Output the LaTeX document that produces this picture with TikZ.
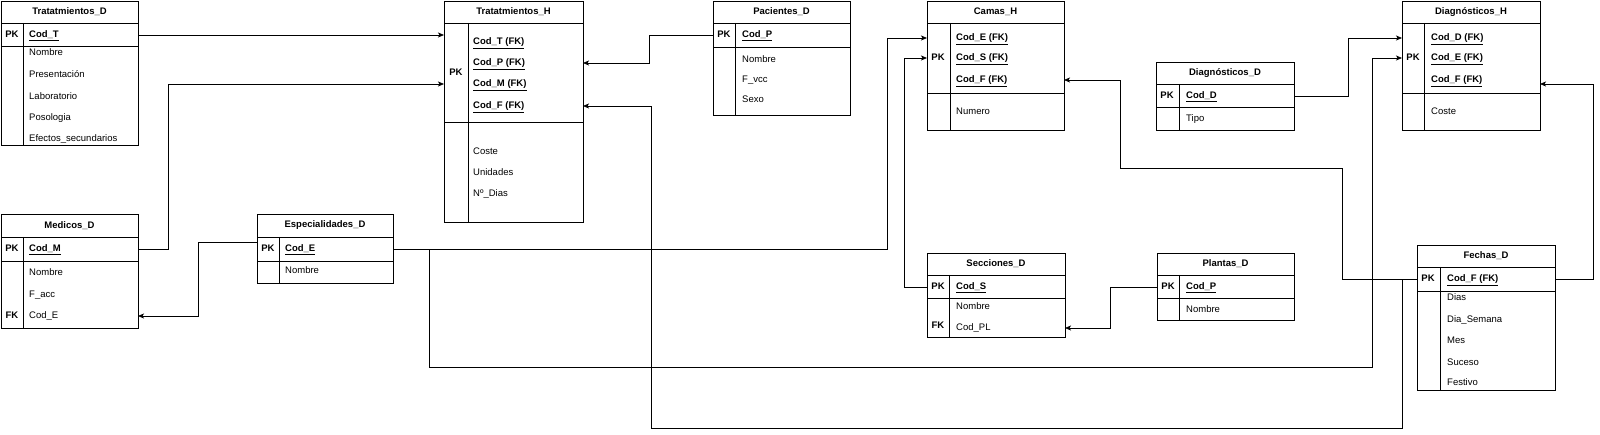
\documentclass[tikz,border=0pt]{standalone}
\usepackage{fontspec}
\setmainfont{Liberation Sans}
\usetikzlibrary{arrows.meta,positioning,calc}

\begin{document}
\begin{tikzpicture}[
    x=1pt, y=-1pt,
    tbox/.style={draw, line width=0.8pt, fill=white, anchor=north west, inner sep=0pt, outer sep=0pt},
    tline/.style={line width=0.8pt},
    thead/.style={font=\fontsize{9.5}{11}\selectfont\bfseries},
    keylabel/.style={font=\fontsize{9.5}{11}\selectfont\bfseries, text height=7pt, text depth=2pt},
    keyfield/.style={anchor=west, inner sep=0pt, font=\fontsize{9.5}{11}\selectfont\bfseries, text height=7pt, text depth=2pt},
    field/.style={anchor=west, inner sep=0pt, font=\fontsize{9.5}{11}\selectfont, text height=7pt, text depth=2pt},
    rel/.style={line width=0.7pt, -{Stealth[length=6pt, width=5pt, inset=1.5pt]}}
]

    \useasboundingbox (0,0) rectangle (1600,435);

    % Tratatmientos_D

    \node[tbox, minimum width=137, minimum height=144] (trD) at (1,1) {};

    \draw[tline] (1,23) -- (138,23);
    \draw[tline] (1,46) -- (138,46);
    \draw[tline] (23,23) -- (23,145);

    \node[thead] at (69.5,12) {Tratatmientos\_D};

    \node[keylabel] at (12,35) {PK};

    \node[keyfield] (tdT) at (29,35) {\underline{Cod\_T}};

    \foreach \y/\t in {53/Nombre, 75/Presentación, 97/Laboratorio, 118/Posologia, 139/Efectos\_secundarios} {

        \node[field] at (29,\y) {\t};

    }

    

    % Tratatmientos_H

    \node[tbox, minimum width=139, minimum height=221] (trH) at (444,1) {};

    \draw[tline] (444,23) -- (583,23);
    \draw[tline] (444,122) -- (583,122);
    \draw[tline] (468,23) -- (468,222);

    \node[thead] at (513.5,12) {Tratatmientos\_H};

    \node[keylabel] at (456,73) {PK};

    \node[keyfield] (thT) at (473,42) {\underline{Cod\_T (FK)}};

    \node[keyfield] (thP) at (473,63) {\underline{Cod\_P (FK)}};

    \node[keyfield] (thM) at (473,84) {\underline{Cod\_M (FK)}};

    \node[keyfield] (thF) at (473,106) {\underline{Cod\_F (FK)}};

    \foreach \y/\t in {152/Coste, 173/Unidades, 194/Nº\_Dias} {

        \node[field] at (473,\y) {\t};

    }

    

    % Pacientes_D

    \node[tbox, minimum width=137, minimum height=114] (pcD) at (713,1) {};

    \draw[tline] (713,23) -- (850,23);
    \draw[tline] (713,47) -- (850,47);
    \draw[tline] (735,23) -- (735,115);

    \node[thead] at (781.5,12) {Pacientes\_D};

    \node[keylabel] at (724,35) {PK};

    \node[keyfield] (pcP) at (742,35) {\underline{Cod\_P}};

    \foreach \y/\t in {60/Nombre, 80/F\_vcc, 100/Sexo} {

        \node[field] at (742,\y) {\t};

    }

    

    % Camas_H

    \node[tbox, minimum width=137, minimum height=129] (cmH) at (927,1) {};

    \draw[tline] (927,23) -- (1064,23);
    \draw[tline] (927,93) -- (1064,93);
    \draw[tline] (950,23) -- (950,130);

    \node[thead] at (995.5,12) {Camas\_H};

    \node[keylabel] at (938,58) {PK};

    \node[keyfield] (cmE) at (956,38) {\underline{Cod\_E (FK)}};

    \node[keyfield] (cmS) at (956,58) {\underline{Cod\_S (FK)}};

    \node[keyfield] (cmF) at (956,80) {\underline{Cod\_F (FK)}};

    \node[field] at (956,112) {Numero};

    

    % Diagnósticos_D

    \node[tbox, minimum width=138, minimum height=68] (dgD) at (1156,62) {};

    \draw[tline] (1156,84) -- (1294,84);
    \draw[tline] (1156,107) -- (1294,107);
    \draw[tline] (1179,84) -- (1179,130);

    \node[thead] at (1225,73) {Diagnósticos\_D};

    \node[keylabel] at (1167,96) {PK};

    \node[keyfield] (ddD) at (1186,96) {\underline{Cod\_D}};

    \node[field] at (1186,119) {Tipo};

    

    % Diagnósticos_H

    \node[tbox, minimum width=138, minimum height=129] (dgH) at (1402,1) {};

    \draw[tline] (1402,23) -- (1540,23);
    \draw[tline] (1402,93) -- (1540,93);
    \draw[tline] (1424,23) -- (1424,130);

    \node[thead] at (1471,12) {Diagnósticos\_H};

    \node[keylabel] at (1413,58) {PK};

    \node[keyfield] (dhD) at (1431,38) {\underline{Cod\_D (FK)}};

    \node[keyfield] (dhE) at (1431,58) {\underline{Cod\_E (FK)}};

    \node[keyfield] (dhF) at (1431,80) {\underline{Cod\_F (FK)}};

    \node[field] at (1431,112) {Coste};

    

    % Medicos_D

    \node[tbox, minimum width=137, minimum height=114] (mdD) at (1,214) {};

    \draw[tline] (1,237) -- (138,237);
    \draw[tline] (1,261) -- (138,261);
    \draw[tline] (23,237) -- (23,328);

    \node[thead] at (69.5,225.5) {Medicos\_D};

    \node[keylabel] at (12,249) {PK};

    \node[keylabel] at (12,316) {FK};

    \node[keyfield] (mdM) at (29,249) {\underline{Cod\_M}};

    \node[field] at (29,273) {Nombre};

    \node[field] at (29,295) {F\_acc};

    \node[field] (mdE) at (29,316) {Cod\_E};

    

    % Especialidades_D

    \node[tbox, minimum width=136, minimum height=69] (esD) at (257,214) {};

    \draw[tline] (257,237) -- (393,237);
    \draw[tline] (257,261) -- (393,261);
    \draw[tline] (279,237) -- (279,283);

    \node[thead] at (325,225.5) {Especialidades\_D};

    \node[keylabel] at (268,249) {PK};

    \node[keyfield] (esE) at (285,249) {\underline{Cod\_E}};

    \node[field] at (285,271) {Nombre};

    

    % Secciones_D

    \node[tbox, minimum width=138, minimum height=84] (scD) at (927,253) {};

    \draw[tline] (927,275) -- (1065,275);
    \draw[tline] (927,298) -- (1065,298);
    \draw[tline] (949,275) -- (949,337);

    \node[thead] at (996,264) {Secciones\_D};

    \node[keylabel] at (938,287) {PK};

    \node[keylabel] at (938,326) {FK};

    \node[keyfield] (scS) at (956,287) {\underline{Cod\_S}};

    \node[field] at (956,307) {Nombre};

    \node[field] (scL) at (956,328) {Cod\_PL};

    

    % Plantas_D

    \node[tbox, minimum width=137, minimum height=67] (plD) at (1157,253) {};

    \draw[tline] (1157,275) -- (1294,275);
    \draw[tline] (1157,298) -- (1294,298);
    \draw[tline] (1179,275) -- (1179,320);

    \node[thead] at (1225.5,264) {Plantas\_D};

    \node[keylabel] at (1168,287) {PK};

    \node[keyfield] (plP) at (1186,287) {\underline{Cod\_P}};

    \node[field] at (1186,310) {Nombre};

    

    % Fechas_D

    \node[tbox, minimum width=138, minimum height=145] (fcD) at (1417,245) {};

    \draw[tline] (1417,267) -- (1555,267);
    \draw[tline] (1417,291) -- (1555,291);
    \draw[tline] (1440,267) -- (1440,390);

    \node[thead] at (1486,256) {Fechas\_D};

    \node[keylabel] at (1428,279) {PK};

    \node[keyfield] (fcF) at (1447,279) {\underline{Cod\_F (FK)}};

    \foreach \y/\t in {298/Dias, 320/Dia\_Semana, 341/Mes, 363/Suceso, 383/Festivo} {

        \node[field] at (1447,\y) {\t};

    }

    

    % Relations

    \draw[rel] (tdT -| trD.east) -- (tdT -| trH.west);

    \draw[rel] (mdM -| mdD.east) -| (168,84) -- (thM -| trH.west);

    \draw[rel] (pcP -| pcD.west) -| (649,63) -- (thP -| trH.east);

    \draw[rel] (fcF -| fcD.west) -| (1402,428) -| (651,106) -- (thF -| trH.east);

    \draw[rel] (fcF -| fcD.west) -| (1342,168) -| (1120,80) -- (cmF -| cmH.east);

    \draw[rel] (fcF -| fcD.east) -| (1593,84) -- ($(dhF -| dgH.east)+(0,4)$);

    \draw[rel] (ddD -| dgD.east) -| (1348,38) -- (dhD -| dgH.west);

    \draw[rel] (esE -| esD.east) -| (887,38) -- (cmE -| cmH.west);

    \draw[rel] (esE -| esD.east) -| (429,367) -| (1372,58) -- (dhE -| dgH.west);

    \draw[rel] ($(esE -| esD.west)+(0,-7)$) -| (198,316) -- (mdE -| mdD.east);

    \draw[rel] (scS -| scD.west) -| (904,58) -- (cmS -| cmH.west);

    \draw[rel] (plP -| plD.west) -| (1110,328) -- (scL -| scD.east);

\end{tikzpicture}
\end{document}
